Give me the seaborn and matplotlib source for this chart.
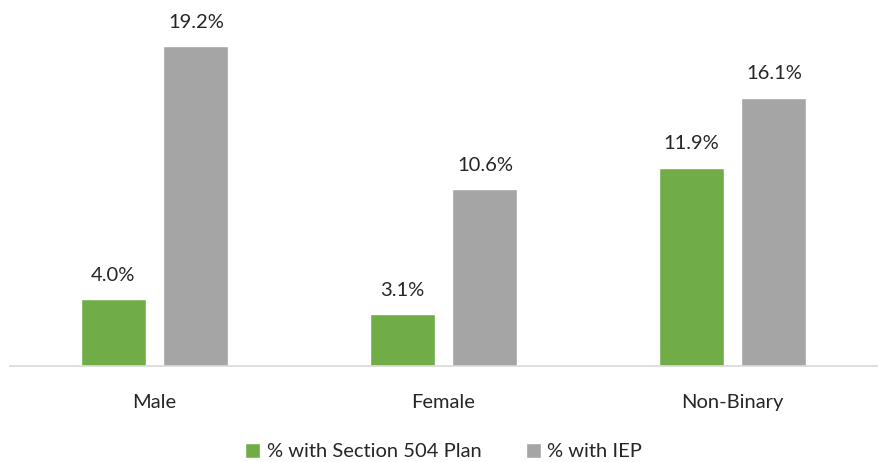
import matplotlib
matplotlib.use('Agg')
import pandas as pd
import matplotlib.pyplot as plt
import seaborn as sns

# dados
categorias = ['Male', 'Female', 'Non-Binary']
series = ['% with Section 504 Plan', '% with IEP']
plano_504 = [4.0, 3.1, 11.9]
iep = [19.2, 10.6, 16.1]
cores = ['#70AD47', '#A5A5A5']

df = pd.DataFrame({
    'grupo': categorias * 2,
    'serie': [series[0]] * 3 + [series[1]] * 3,
    'valor': plano_504 + iep,
})

sns.set_theme(style='white')
plt.rcParams['font.family'] = ['Lato', 'DejaVu Sans']

fig = plt.figure(figsize=(8.8, 4.62), dpi=100)
ax = fig.add_axes([10 / 880, 1 - 366 / 462, 867 / 880, 356 / 462])

sns.barplot(data=df, x='grupo', y='valor', hue='serie', palette=cores,
            width=0.574, gap=0.217, ax=ax, legend=True, saturation=1)

ax.set_ylim(0, 356 / (320 / 19.2))
ax.set_xlim(-0.5, 2.5)
for cont in ax.containers:
    ax.bar_label(cont, labels=[f'{v:.1f}%' for v in cont.datavalues],
                 padding=11, fontsize=14.5, color='#262626')

ax.set_xlabel('')
ax.set_ylabel('')
ax.set_yticks([])
ax.tick_params(axis='x', labelsize=14.5, colors='#262626', pad=20, length=0)
for s in ['top', 'right', 'left']:
    ax.spines[s].set_visible(False)
ax.spines['bottom'].set_color('#D9D9D9')
ax.spines['bottom'].set_linewidth(1.2)

ax.legend(loc='upper center', bbox_to_anchor=(0.5, -0.165), ncol=2, frameon=False,
          fontsize=14.5, handlelength=0.75, handleheight=0.75, handletextpad=0.3,
          columnspacing=2.2, labelcolor='#262626')

plt.savefig('out.png')
plt.close()
